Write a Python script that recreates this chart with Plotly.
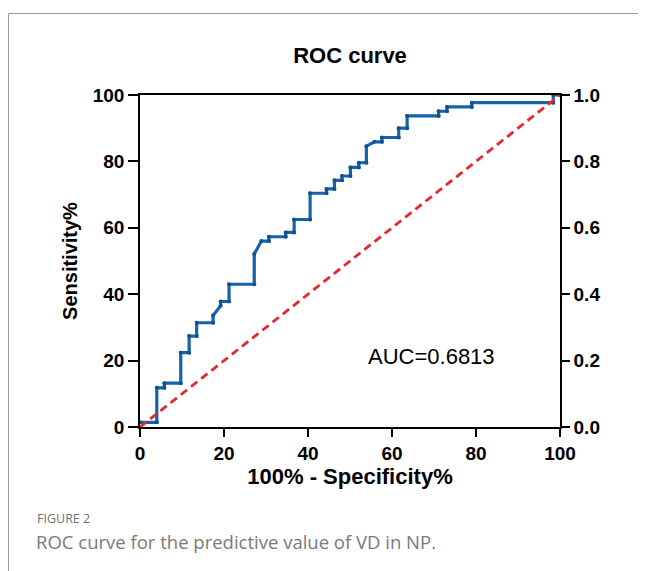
import plotly.graph_objects as go

# ROC curve vertices (100% - Specificity%, Sensitivity%)
fpr = [0, 4.0, 4.0, 5.8, 5.8, 9.7, 9.7, 11.7, 11.7, 13.5, 13.5, 17.4, 17.4, 19.2, 19.2,
       21.2, 21.2, 27.2, 27.2, 28.9, 30.7, 30.7, 34.7, 34.7, 36.7, 36.7, 40.5, 40.5,
       44.4, 44.4, 46.3, 46.3, 48.1, 48.1, 50.1, 50.1, 52.1, 52.1, 53.9, 53.9, 55.8,
       57.6, 57.6, 61.6, 61.6, 63.6, 63.6, 71.1, 71.1, 73.1, 73.1, 79.0, 79.0, 98.4,
       98.4, 100]
tpr = [1.4, 1.4, 11.8, 11.8, 13.2, 13.2, 22.4, 22.4, 27.4, 27.4, 31.4, 31.4, 33.6, 36.5, 37.8,
       37.8, 43.0, 43.0, 52.1, 56.0, 56.0, 57.3, 57.3, 58.6, 58.6, 62.5, 62.5, 70.4,
       70.4, 71.7, 71.7, 74.3, 74.3, 75.6, 75.6, 78.2, 78.2, 79.6, 79.6, 84.6, 85.9,
       85.9, 87.2, 87.2, 90.0, 90.0, 93.7, 93.7, 95.1, 95.1, 96.4, 96.4, 97.7, 97.7,
       100, 100]
ref_x = [0, 100]
ref_y = [0, 100]
auc_text = "AUC=0.6813"
x_ticks = [0, 20, 40, 60, 80, 100]
y_ticks = [0, 20, 40, 60, 80, 100]
y2_ticks = [0.0, 0.2, 0.4, 0.6, 0.8, 1.0]

# page body has an 8px margin; figure coordinates = page - 8
OFF = 8
W, H = 646 - OFF, 571 - OFF
L, T = 140 - OFF, 95 - OFF
R = W - (560 - OFF)
B = H - (427 - OFF)
pw, ph = W - L - R, H - T - B

def px(x):  # page pixel -> paper x
    return (x - OFF - L) / pw

def py(y):  # page pixel -> paper y
    return (H - B - (y - OFF)) / ph

FONT = "Liberation Sans, Arial, sans-serif"

fig = go.Figure()
fig.add_trace(go.Scatter(x=fpr, y=tpr, mode="lines+markers",
                         line=dict(color="#1762aa", width=3.2),
                         marker=dict(size=4, color="#0f528f"),
                         showlegend=False, cliponaxis=False))
fig.add_trace(go.Scatter(x=ref_x, y=ref_y, mode="lines",
                         line=dict(color="#e8262e", width=2.8, dash="8px,5px"),
                         showlegend=False, cliponaxis=False))
# invisible trace for the right axis
fig.add_trace(go.Scatter(x=[0], y=[0], yaxis="y2", mode="markers",
                         marker=dict(opacity=0), showlegend=False, hoverinfo="skip"))

fig.update_layout(
    width=W, height=H,
    margin=dict(l=L, r=R, t=T, b=B),
    paper_bgcolor="white", plot_bgcolor="white",
    font=dict(family=FONT, color="black"),
    title=dict(text="<b>ROC curve</b>", x=px(350), xref="paper", xanchor="center",
               y=1 - (55 - OFF) / H, yanchor="middle", font=dict(size=22, color="black")),
    xaxis=dict(range=[0, 100], tickvals=x_ticks, ticks="outside", ticklen=8,
               tickwidth=1.5, tickcolor="black", showline=True, linecolor="black",
               linewidth=1.5, mirror=True, showgrid=False, zeroline=False,
               tickfont=dict(size=19, family=FONT, weight="bold"),
               title=dict(text="<b>100% - Specificity%</b>", font=dict(size=22), standoff=4)),
    yaxis=dict(range=[0, 100], tickvals=y_ticks, ticks="outside", ticklen=10,
               tickwidth=1.5, tickcolor="black", showline=True, linecolor="black",
               linewidth=1.5, showgrid=False, zeroline=False,
               tickfont=dict(size=19, family=FONT, weight="bold"),
               title=dict(text="<b>Sensitivity%</b>", font=dict(size=20), standoff=10)),
    yaxis2=dict(range=[0, 1], tickvals=y2_ticks, tickformat=".1f", overlaying="y",
                side="right", ticks="outside", ticklen=8, tickwidth=1.5,
                tickcolor="black", showline=True, linecolor="black", linewidth=1.5,
                showgrid=False, zeroline=False,
                tickfont=dict(size=19, family=FONT, weight="bold")),
    annotations=[
        dict(text=auc_text, x=69.3, y=21.2, xref="x", yref="y", showarrow=False,
             font=dict(size=22, family=FONT, color="black"), xanchor="center", yanchor="middle"),
        dict(text="FIGURE 2", x=px(35), y=py(518), xref="paper", yref="paper",
             showarrow=False, xanchor="left", yanchor="middle",
             font=dict(size=12.5, family="Open Sans, sans-serif", color="#6f6f6f")),
        dict(text="ROC curve for the predictive value of VD in NP.", x=px(34), y=py(541),
             xref="paper", yref="paper", showarrow=False, xanchor="left", yanchor="middle",
             font=dict(size=18.5, family="Open Sans, sans-serif", color="#7a7a7a")),
    ],
    shapes=[
        dict(type="line", xref="paper", yref="paper", x0=px(8.5), x1=px(680),
             y0=py(13.5), y1=py(13.5), line=dict(color="#9a9a9a", width=1)),
        dict(type="line", xref="paper", yref="paper", x0=px(8.5), x1=px(8.5),
             y0=py(13.5), y1=py(600), line=dict(color="#9a9a9a", width=1)),
    ],
)

fig.write_html("out.html")
